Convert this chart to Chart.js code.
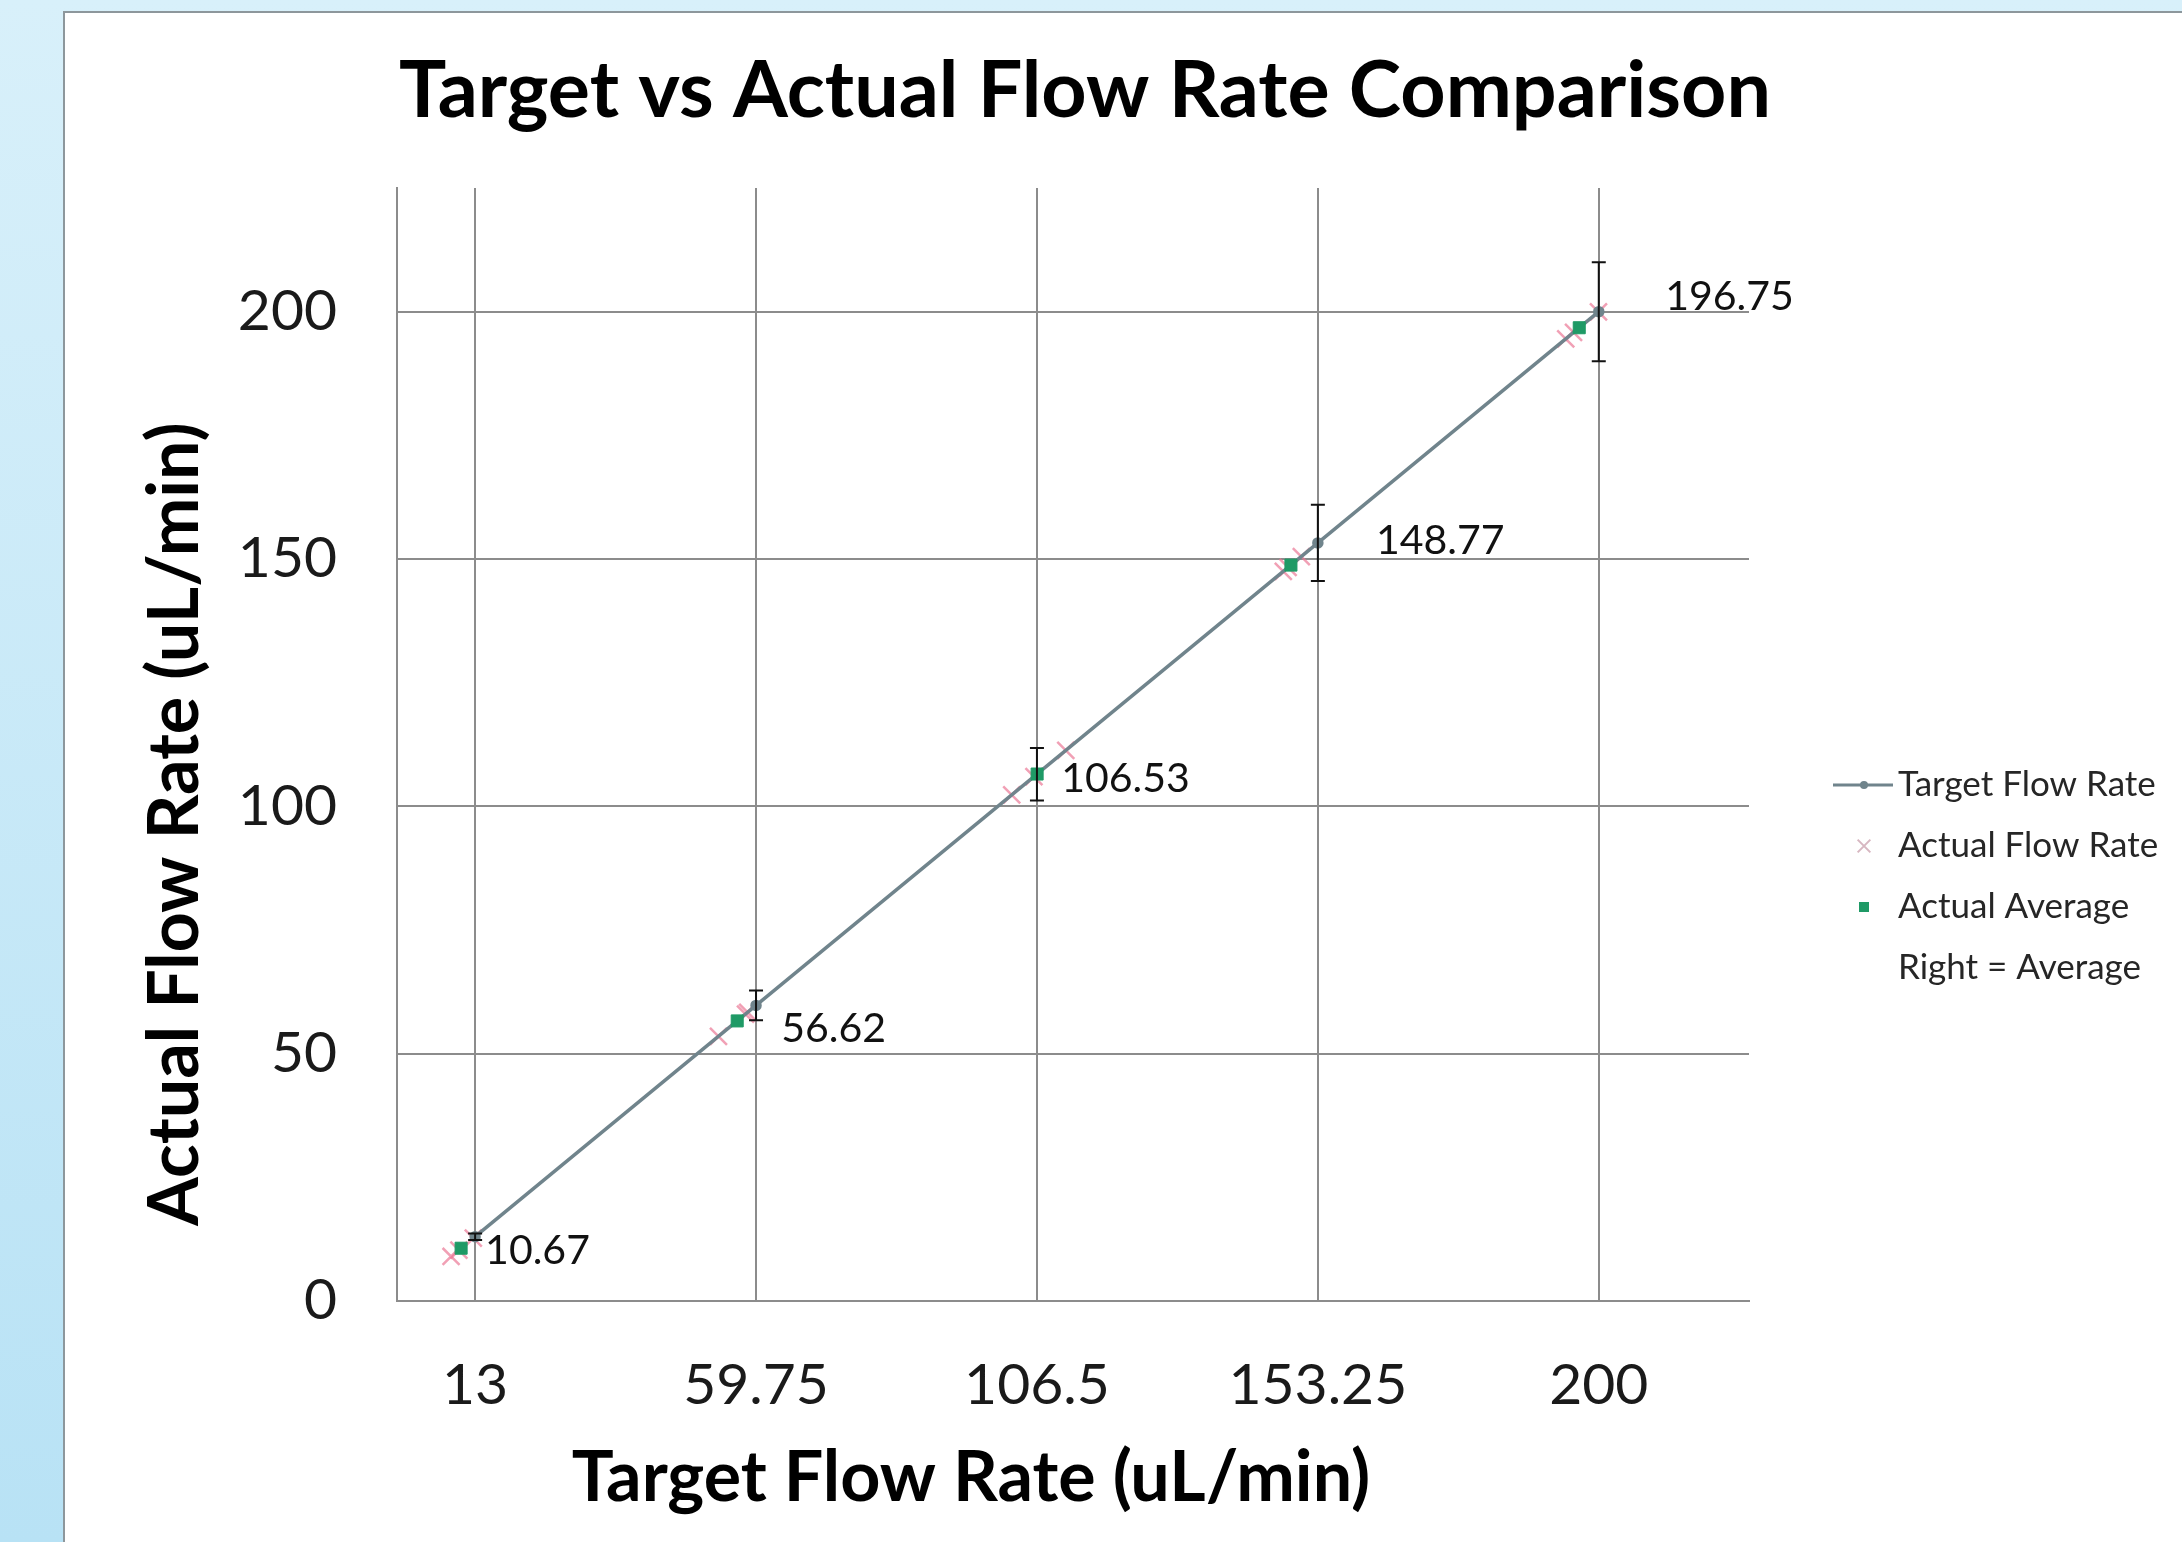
<!DOCTYPE html>
<html>
<head>
<meta charset="utf-8">
<script src="https://cdn.jsdelivr.net/npm/chart.js@4/dist/chart.umd.min.js"></script>
<style>
  html, body { margin: 0; padding: 0; background: #ffffff; overflow: hidden; }
  #wrap { position: relative; width: 2182px; height: 1542px; }
  canvas { display: block; }
</style>
</head>
<body>
<div id="wrap"><canvas id="c" width="2182" height="1542"></canvas></div>
<script>
// ---------------- data ----------------
const chartTitle = 'Target vs Actual Flow Rate Comparison';
const xAxisTitle = 'Target Flow Rate (uL/min)';
const yAxisTitle = 'Actual Flow Rate (uL/min)';
const seriesNames = ['Target Flow Rate', 'Actual Flow Rate', 'Actual Average', 'Right = Average'];
const targetRates = [13, 59.75, 106.5, 153.25, 200];
const targetErrors = [0.65, 3.0, 5.3, 7.7, 10.0];
const actualReadings = [
  [9.0, 10.3, 12.7],
  [53.5, 58.0, 58.36],
  [102.3, 106.0, 111.3],
  [147.5, 148.3, 150.5],
  [194.5, 195.8, 199.95]
];
const actualAverages = [10.67, 56.62, 106.53, 148.77, 196.75];
const xTickValues = [13, 59.75, 106.5, 153.25, 200];
const yTickValues = [0, 50, 100, 150, 200];

// ---------------- styles ----------------
const FONT = 'Lato, "Open Sans", sans-serif';
const GRID = '#8c8c8c';
const TARGET_COLOR = '#70848c';
const ACTUAL_COLOR = 'rgba(235,120,150,0.7)';
const AVG_COLOR = '#1f9a66';
const labelOffsets = [[24, 3], [44, 8], [24, 5], [85, -24], [86, -31]];
const legendRows = [785, 846, 907, 968];

// ---------------- datasets built from arrays ----------------
const targetPts = targetRates.map(v => ({ x: v, y: v }));
const actualPts = [];
actualReadings.forEach(group => group.forEach(r => actualPts.push({ x: r, y: r })));
const avgPts = actualAverages.map(v => ({ x: v, y: v }));

// ---------------- plugins ----------------
const backgroundPlugin = {
  id: 'bg',
  beforeDraw(chart) {
    const { ctx, width, height } = chart;
    ctx.save();
    const g = ctx.createLinearGradient(0, 0, 0, height);
    g.addColorStop(0, '#d8f0fa');
    g.addColorStop(1, '#b8e2f5');
    ctx.fillStyle = g;
    ctx.fillRect(0, 0, width, height);
    ctx.fillStyle = '#ffffff';
    ctx.fillRect(64, 12, width - 64, height - 12);
    ctx.strokeStyle = '#8d979c';
    ctx.lineWidth = 2;
    ctx.beginPath();
    ctx.moveTo(64, height);
    ctx.lineTo(64, 12);
    ctx.lineTo(width, 12);
    ctx.stroke();
    ctx.restore();
  }
};

const errorBarPlugin = {
  id: 'errorBars',
  afterDatasetsDraw(chart) {
    const { ctx } = chart;
    const yScale = chart.scales.y;
    const meta = chart.getDatasetMeta(0);
    ctx.save();
    ctx.strokeStyle = '#111111';
    ctx.lineWidth = 2;
    meta.data.forEach((pt, i) => {
      const v = targetRates[i];
      const e = targetErrors[i];
      const yTop = yScale.getPixelForValue(v + e);
      const yBot = yScale.getPixelForValue(v - e);
      const x = pt.x;
      ctx.beginPath();
      ctx.moveTo(x, yTop); ctx.lineTo(x, yBot);
      ctx.moveTo(x - 7, yTop); ctx.lineTo(x + 7, yTop);
      ctx.moveTo(x - 7, yBot); ctx.lineTo(x + 7, yBot);
      ctx.stroke();
    });
    ctx.restore();
  }
};

const labelPlugin = {
  id: 'avgLabels',
  afterDatasetsDraw(chart) {
    const { ctx } = chart;
    const meta = chart.getDatasetMeta(3);
    ctx.save();
    ctx.font = '41px ' + FONT;
    ctx.fillStyle = '#111111';
    ctx.textAlign = 'left';
    ctx.textBaseline = 'middle';
    meta.data.forEach((pt, i) => {
      const [dx, dy] = labelOffsets[i];
      ctx.fillText(actualAverages[i].toFixed(2), pt.x + dx, pt.y + dy);
    });
    ctx.restore();
  }
};

const textPlugin = {
  id: 'texts',
  afterDraw(chart) {
    const { ctx } = chart;
    ctx.save();
    ctx.fillStyle = '#000000';
    ctx.textAlign = 'center';
    ctx.textBaseline = 'alphabetic';
    ctx.font = 'bold 79px ' + FONT;
    ctx.fillText(chartTitle, 1085, 117);
    ctx.font = 'bold 70px ' + FONT;
    ctx.fillText(xAxisTitle, 971, 1501);
    ctx.translate(198, 824);
    ctx.rotate(-Math.PI / 2);
    ctx.fillText(yAxisTitle, 0, 0);
    ctx.restore();

    // legend
    const ds = chart.data.datasets;
    ctx.save();
    ctx.font = '35px ' + FONT;
    ctx.textAlign = 'left';
    ctx.textBaseline = 'middle';
    ds.forEach((d, i) => {
      const y = legendRows[i];
      const mx = 1864;
      if (i === 0) {
        ctx.strokeStyle = d.borderColor;
        ctx.lineWidth = 3;
        ctx.beginPath(); ctx.moveTo(1833, y); ctx.lineTo(1893, y); ctx.stroke();
        ctx.fillStyle = d.pointBackgroundColor;
        ctx.beginPath(); ctx.arc(mx, y, 4, 0, Math.PI * 2); ctx.fill();
      } else if (i === 1) {
        ctx.strokeStyle = 'rgba(205,165,178,0.8)';
        ctx.lineWidth = 2;
        Chart.helpers.drawPoint(ctx, { pointStyle: 'crossRot', radius: 9, borderWidth: 2, rotation: 0 }, mx, y);
      } else if (i === 2) {
        ctx.fillStyle = d.pointBackgroundColor;
        ctx.fillRect(mx - 5, y - 5, 10, 10);
      }
      ctx.fillStyle = '#262626';
      ctx.fillText(d.label, 1898, y);
    });
    ctx.restore();
  }
};

// ---------------- chart ----------------
const axisTickFont = { family: FONT, size: 57 };

new Chart(document.getElementById('c'), {
  type: 'scatter',
  data: {
    datasets: [
      {
        label: seriesNames[0],
        data: targetPts,
        showLine: true,
        borderColor: TARGET_COLOR,
        borderWidth: 3.5,
        pointRadius: 4,
        pointBackgroundColor: TARGET_COLOR,
        pointBorderColor: TARGET_COLOR,
        order: 1
      },
      {
        label: seriesNames[1],
        data: actualPts,
        showLine: false,
        pointStyle: 'crossRot',
        pointRadius: 12,
        pointBorderWidth: 2.5,
        pointBorderColor: ACTUAL_COLOR,
        pointBackgroundColor: ACTUAL_COLOR,
        borderColor: ACTUAL_COLOR,
        order: 2
      },
      {
        label: seriesNames[2],
        data: avgPts,
        showLine: false,
        pointStyle: 'rect',
        pointRadius: 8.5,
        pointBackgroundColor: AVG_COLOR,
        pointBorderColor: AVG_COLOR,
        borderColor: AVG_COLOR,
        order: 0
      },
      {
        label: seriesNames[3],
        data: avgPts,
        showLine: false,
        pointRadius: 0,
        borderColor: 'rgba(0,0,0,0)',
        backgroundColor: 'rgba(0,0,0,0)',
        order: 3
      }
    ]
  },
  options: {
    responsive: false,
    animation: false,
    devicePixelRatio: 1,
    events: [],
    layout: { padding: { left: 0, top: 188, right: 433, bottom: 0 } },
    plugins: {
      legend: { display: false },
      title: { display: false },
      tooltip: { enabled: false }
    },
    scales: {
      x: {
        type: 'linear',
        position: 'bottom',
        min: 0,
        max: 225,
        afterBuildTicks: s => { s.ticks = xTickValues.map(v => ({ value: v })); },
        afterFit: s => { s.height = 241; },
        ticks: {
          autoSkip: false,
          maxRotation: 0,
          padding: 50,
          color: '#1a1a1a',
          font: axisTickFont,
          callback: v => String(v)
        },
        grid: { color: GRID, lineWidth: 2, drawTicks: false },
        border: { display: true, color: GRID, width: 2 }
      },
      y: {
        type: 'linear',
        position: 'left',
        min: 0,
        max: 225,
        afterBuildTicks: s => { s.ticks = yTickValues.map(v => ({ value: v })); },
        afterFit: s => { s.width = 397; },
        ticks: {
          autoSkip: false,
          padding: 60,
          color: '#1a1a1a',
          font: axisTickFont,
          callback: v => String(v)
        },
        grid: { color: GRID, lineWidth: 2, drawTicks: false },
        border: { display: true, color: GRID, width: 2 }
      }
    }
  },
  plugins: [backgroundPlugin, errorBarPlugin, labelPlugin, textPlugin]
});
</script>
</body>
</html>
